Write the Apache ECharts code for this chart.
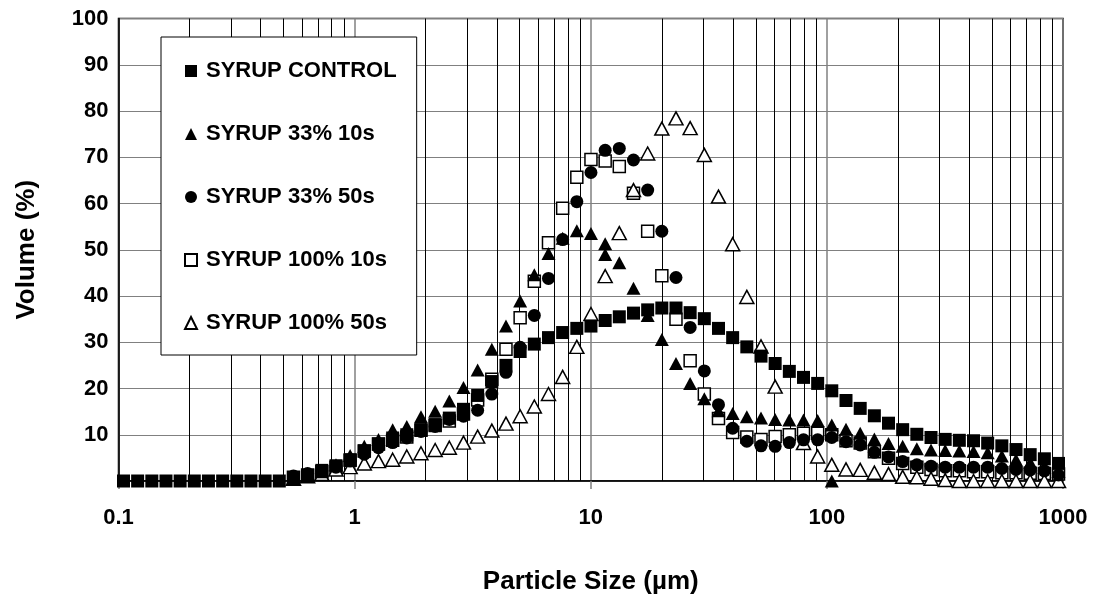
<!DOCTYPE html>
<html><head><meta charset="utf-8">
<script src="https://cdn.jsdelivr.net/npm/echarts@6/dist/echarts.min.js"></script>
<style>html,body{margin:0;padding:0;background:#fff}#c{width:1097px;height:602px}</style>
</head><body><div id="c"></div>
<script>
// Particle size classes (µm)
const sizes = [0.105, 0.1205, 0.1384, 0.1589, 0.1824, 0.2094, 0.2404, 0.2761, 0.317, 0.3639,
  0.4178, 0.4797, 0.5508, 0.6324, 0.7261, 0.8337, 0.9572, 1.099, 1.262, 1.449,
  1.663, 1.91, 2.193, 2.518, 2.891, 3.319, 3.811, 4.375, 5.023, 5.768,
  6.622, 7.603, 8.73, 10.02, 11.51, 13.21, 15.17, 17.42, 20.0, 22.96,
  26.36, 30.27, 34.75, 39.9, 45.81, 52.6, 60.39, 69.34, 79.62, 91.41,
  104.9, 120.5, 138.4, 158.9, 182.4, 209.4, 240.4, 276.1, 317.0, 363.9,
  417.8, 479.7, 550.8, 632.4, 726.1, 833.7, 957.2];

const syrupControl = [0,0,0,0,0,0,0,0,0,0,
  0,0,0.5,1.2,2.3,3.3,4.6,6.5,8.0,9.3,
  10.0,11.1,12.2,13.6,15.5,18.5,21.5,25.0,28.0,29.6,
  31.0,32.1,33.0,33.5,34.7,35.5,36.3,37.0,37.4,37.4,
  36.4,35.1,33.0,31.0,29.0,27.0,25.4,23.7,22.4,21.1,
  19.5,17.4,15.7,14.1,12.5,11.1,10.1,9.4,9.0,8.8,
  8.7,8.2,7.6,6.8,5.7,4.8,3.8];

const syrup33_10s = [null,null,null,null,null,null,null,null,null,null,
  null,null,0.5,1.0,2.0,3.5,5.5,7.5,9.0,11.1,
  11.8,13.9,15.1,17.3,20.2,24.0,28.5,33.5,38.9,44.6,
  49.2,52.5,54.1,53.5,51.3,47.2,41.7,35.8,30.6,25.4,
  21.1,17.8,15.2,14.6,13.9,13.6,13.3,13.2,13.2,13.1,
  12.1,11.2,10.3,9.1,8.1,7.5,7.0,6.7,6.6,6.5,
  6.4,6.1,5.4,4.6,4.0,3.0,2.1];
// two extra points of this series that share a size class with another point
const syrup33_10s_extraX = [11.51, 104.9];
const syrup33_10s_extraY = [49.0, 0];

const syrup33_50s = [null,null,null,null,null,null,null,null,null,null,
  null,null,1.1,1.6,2.2,3.0,4.3,5.8,7.2,8.3,
  9.3,10.7,11.8,13.3,14.0,15.3,18.8,23.5,28.9,35.8,
  43.8,52.2,60.4,66.7,71.5,71.9,69.4,62.9,54.0,44.0,
  33.2,23.8,16.5,11.4,8.6,7.6,7.5,8.3,8.9,8.9,
  9.4,8.5,7.8,6.2,5.2,4.2,3.5,3.2,3.0,3.0,
  3.0,3.0,2.7,2.5,2.4,2.2,1.3];

const syrup100_10s = [null,null,null,null,null,null,null,null,null,null,
  null,null,0.8,1.3,2.0,3.0,4.5,6.5,8.0,8.8,
  9.5,11.0,12.0,13.0,14.5,17.5,22.0,28.5,35.3,43.2,
  51.5,59.0,65.7,69.5,69.2,68.0,62.2,54.0,44.4,35.0,
  26.0,18.8,13.5,10.5,9.5,9.0,9.6,10.0,10.3,10.3,
  10.0,8.7,8.2,6.3,4.9,3.8,3.0,2.5,2.2,2.2,
  2.0,2.0,1.8,1.8,1.7,1.6,1.5];

const syrup100_50s = [null,null,null,null,null,null,null,null,null,null,
  null,null,0.5,1.0,1.5,2.5,3.0,3.8,4.3,4.6,
  5.3,6.0,6.7,7.2,8.3,9.6,10.9,12.4,14.0,16.1,
  18.8,22.5,29.0,36.1,44.3,53.6,62.9,70.8,76.2,78.4,
  76.3,70.5,61.5,51.2,39.8,29.1,20.4,null,8.2,5.3,
  3.5,2.5,2.4,1.8,1.5,0.9,0.8,0.5,0.2,0,
  0,0,0,0,0,0,0];

const seriesNames = ['SYRUP CONTROL', 'SYRUP 33% 10s', 'SYRUP 33% 50s', 'SYRUP 100% 10s', 'SYRUP 100% 50s'];
const xTickLabels = ['0.1', '1', '10', '100', '1000'];
const minorGridValues = [0.2,0.3,0.4,0.5,0.6,0.7,0.8,0.9, 2,3,4,5,6,7,8,9,
  20,30,40,50,60,70,80,90, 200,300,400,500,600,700,800,900];

function pairs(ys) {
  const out = [];
  ys.forEach((y, i) => { if (y !== null) out.push([sizes[i], y]); });
  return out;
}
const tri33_10 = pairs(syrup33_10s).concat(syrup33_10s_extraX.map((x, i) => [x, syrup33_10s_extraY[i]]));

const FONT = '"Liberation Sans", Arial, sans-serif';
const filled = { color: '#000', opacity: 1 };
const open = { color: '#fff', borderColor: '#000', borderWidth: 1.5, opacity: 1 };
const noEmph = { disabled: true };

const chart = echarts.init(document.getElementById('c'));
chart.setOption({
  animation: false,
  backgroundColor: '#fff',
  textStyle: { fontFamily: FONT },
  grid: { left: 118.5, right: 34, top: 18.5, bottom: 121, show: true, borderColor: '#000', borderWidth: 1.5, containLabel: false, outerBoundsMode: 'none' },
  legend: {
    orient: 'vertical', left: 161, top: 37,
    backgroundColor: '#fff', borderColor: '#000', borderWidth: 1,
    padding: [22, 20, 20, 23],
    itemGap: 39, itemWidth: 12, itemHeight: 12,
    textStyle: { fontFamily: FONT, fontWeight: 'bold', fontSize: 22, color: '#000', lineHeight: 24, padding: [0, 0, 0, 4] },
    data: [
      { name: seriesNames[0], icon: 'rect' },
      { name: seriesNames[1], icon: 'triangle' },
      { name: seriesNames[2], icon: 'circle' },
      { name: seriesNames[3], icon: 'rect' },
      { name: seriesNames[4], icon: 'triangle' }
    ]
  },
  xAxis: {
    type: 'log', logBase: 10, min: 0.1, max: 1000,
    name: 'Particle Size (µm)', nameLocation: 'middle', nameGap: 88,
    nameTextStyle: { fontFamily: FONT, fontWeight: 'bold', fontSize: 26, color: '#000' },
    axisLine: { show: true, onZero: false, lineStyle: { color: '#000', width: 1.5 } },
    axisTick: { show: true, length: 8, lineStyle: { color: '#808080', width: 1.5 } },
    axisLabel: { margin: 26, fontFamily: FONT, fontWeight: 'bold', fontSize: 22, color: '#000',
      formatter: (v, i) => xTickLabels[i] },
    splitLine: { show: true, lineStyle: { color: '#808080', width: 1.5 } },
    minorTick: { show: false }
  },
  yAxis: {
    type: 'value', min: 0, max: 100, interval: 10,
    name: 'Volume (%)', nameLocation: 'middle', nameGap: 79,
    nameTextStyle: { fontFamily: FONT, fontWeight: 'bold', fontSize: 26, color: '#000' },
    axisLine: { show: true, lineStyle: { color: '#000', width: 1.5 } },
    axisTick: { show: false },
    axisLabel: { margin: 10, fontFamily: FONT, fontWeight: 'bold', fontSize: 22, color: '#000',
      formatter: v => (v === 0 ? '' : String(v)) },
    splitLine: { show: true, lineStyle: { color: '#808080', width: 1.2 } }
  },
  series: [
    { name: seriesNames[3], type: 'scatter', symbol: 'rect', symbolSize: 12, itemStyle: open, z: 3, clip: false,
      emphasis: noEmph, data: pairs(syrup100_10s) },
    { name: seriesNames[4], type: 'scatter', symbol: 'triangle', symbolSize: [14, 13], itemStyle: open, z: 3, clip: false,
      emphasis: noEmph, data: pairs(syrup100_50s) },
    { name: seriesNames[0], type: 'scatter', symbol: 'rect', symbolSize: 13, itemStyle: filled, z: 4, clip: false,
      emphasis: noEmph, data: pairs(syrupControl),
      markLine: { silent: true, symbol: 'none', z: 1, animation: false, label: { show: false },
        lineStyle: { color: '#000', width: 1, type: 'solid', opacity: 1 },
        emphasis: { disabled: true },
        data: minorGridValues.map(v => ({ xAxis: v })) } },
    { name: seriesNames[1], type: 'scatter', symbol: 'triangle', symbolSize: [14, 13], itemStyle: filled, z: 4, clip: false,
      emphasis: noEmph, data: tri33_10 },
    { name: seriesNames[2], type: 'scatter', symbol: 'circle', symbolSize: 13, itemStyle: filled, z: 4, clip: false,
      emphasis: noEmph, data: pairs(syrup33_50s) }
  ]
});
</script></body></html>
